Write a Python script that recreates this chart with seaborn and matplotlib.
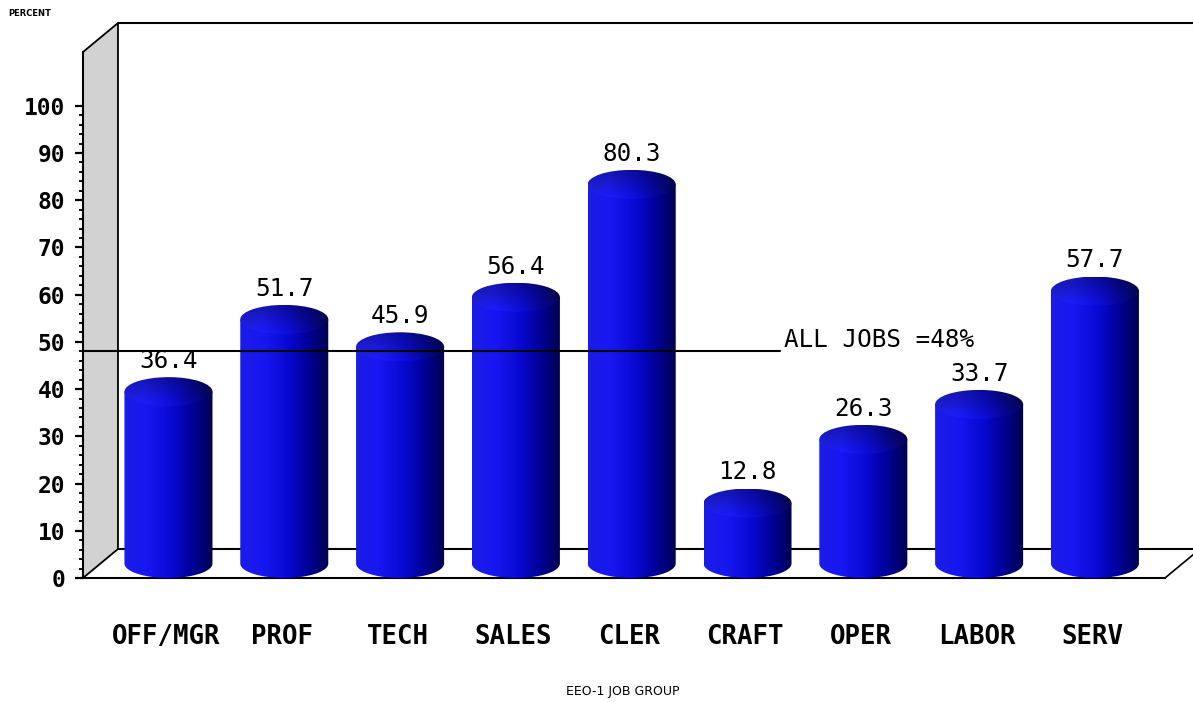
import numpy as np
import matplotlib
matplotlib.use("Agg")
import matplotlib.pyplot as plt
import seaborn as sns
from matplotlib.patches import Polygon, Ellipse
from matplotlib.colors import LinearSegmentedColormap
from matplotlib.ticker import FixedLocator
import matplotlib.transforms as mtransforms

# ---- data ----
categories = ["OFF/MGR", "PROF", "TECH", "SALES", "CLER", "CRAFT", "OPER", "LABOR", "SERV"]
values = [36.4, 51.7, 45.9, 56.4, 80.3, 12.8, 26.3, 33.7, 57.7]
all_jobs = 48
all_jobs_label = "ALL JOBS =48%"
y_ticks = list(range(0, 101, 10))
y_minor = [v for v in range(0, 101, 2) if v % 10]
y_label = "PERCENT"
x_label = "EEO-1 JOB GROUP"

sns.set_theme(style="white")
plt.rcParams["font.family"] = ["DejaVu Sans Mono", "DejaVu Sans"]
plt.rcParams["text.color"] = "black"
plt.rcParams["xtick.color"] = "black"
plt.rcParams["ytick.color"] = "black"
plt.rcParams["axes.labelcolor"] = "black"

W, H = 1193, 702
fig = plt.figure(figsize=(W / 100, H / 100), dpi=100)
ax = fig.add_axes([83 / W, (H - 578) / H, (1165 - 83) / W, 526 / H])

sns.barplot(x=categories, y=values, ax=ax, width=0.76, color="#0000dd", saturation=1)

xl, xr = -0.587, 8.756
ytop = 111.4
dx, dy = 0.302, 6.14       # depth offset (data units)
mx, my = dx / 2, dy / 2    # mid depth

# read bar geometry from seaborn, then replace with cylinders
bars = [(p.get_x(), p.get_width(), p.get_height()) for p in ax.patches]
for p in ax.patches:
    p.set_visible(False)

# 3D box
wall = Polygon([(xl, 0), (xl, ytop), (xl + dx, ytop + dy), (xl + dx, dy)],
               closed=True, facecolor="#d2d2d2", edgecolor="black", lw=1.3,
               zorder=1, clip_on=False)
ax.add_patch(wall)
ax.plot([xl + dx, xr + dx + 0.5], [ytop + dy, ytop + dy], color="black", lw=1.5, clip_on=False, zorder=1)
ax.plot([xl + dx, xr + dx + 0.5], [dy, dy], color="black", lw=1.5, clip_on=False, zorder=1)
ax.plot([xr, xr + dx], [0, dy], color="black", lw=1.2, clip_on=False, zorder=1)

body_cmap = LinearSegmentedColormap.from_list("body", [
    (0.0, (0.11, 0.11, 0.90)),
    (0.25, (0.09, 0.09, 0.95)),
    (0.55, (0.03, 0.03, 0.82)),
    (0.80, (0.00, 0.00, 0.56)),
    (1.0, (0.00, 0.00, 0.32)),
])

N = 128
hcols = body_cmap(np.linspace(0, 1, N))
body_img = hcols[None, :, :]
M = 64
vf = np.linspace(1.04, 0.70, M)[:, None, None]  # bottom (front) brighter, top darker
cap_img = hcols[None, :, :].repeat(M, axis=0).copy()
cap_img[..., :3] = np.clip(cap_img[..., :3] * vf + 0.02, 0, 1)

for (x0, w, h) in bars:
    cx = x0 + w / 2 + mx
    a = w / 2
    b = my
    base = my
    top = h + my
    t = np.linspace(np.pi, 2 * np.pi, 80)
    pts = np.column_stack([cx + a * np.cos(t), base + b * np.sin(t)])
    pts = np.vstack([pts, [[cx + a, top], [cx - a, top]]])
    body_clip = Polygon(pts, closed=True, facecolor="none", edgecolor="none",
                        transform=ax.transData)
    ax.add_patch(body_clip)
    im = ax.imshow(body_img, extent=[cx - a, cx + a, base - b, top], aspect="auto",
                   interpolation="bilinear", origin="lower", zorder=3)
    im.set_clip_path(body_clip)
    cap_clip = Ellipse((cx, top), 2 * a, 2 * b, facecolor="none", edgecolor="none",
                       transform=ax.transData)
    ax.add_patch(cap_clip)
    im2 = ax.imshow(cap_img, extent=[cx - a, cx + a, top - b, top + b], aspect="auto",
                    interpolation="bilinear", origin="lower", zorder=4)
    im2.set_clip_path(cap_clip)
    ax.annotate(f"{h:.1f}", xy=(cx, top + b), xytext=(0, 3), textcoords="offset points",
                ha="center", va="bottom", fontsize=17.5, color="black", zorder=6)

# reference line
line_end = 5.43
ax.plot([xl, line_end], [all_jobs, all_jobs], color="black", lw=1.5, zorder=5, clip_on=False)
ax.annotate(all_jobs_label, xy=(line_end, all_jobs), xytext=(3, 3), textcoords="offset points",
            ha="left", va="baseline", fontsize=17.5, color="black", zorder=6)

ax.set_xlim(xl, xr)
ax.set_ylim(0, ytop)

# spines
for s in ["top", "right"]:
    ax.spines[s].set_visible(False)
for s in ["left", "bottom"]:
    ax.spines[s].set_visible(True)
    ax.spines[s].set_color("black")
    ax.spines[s].set_linewidth(1.5)
    ax.spines[s].set_zorder(2)

ax.set_yticks(y_ticks)
ax.yaxis.set_minor_locator(FixedLocator(y_minor))
ax.tick_params(axis="y", which="major", direction="out", length=6, width=1.6,
               color="black", pad=7, labelsize=16.5, left=True, labelcolor="black")
ax.tick_params(axis="y", which="minor", direction="out", length=3.2, width=1.3,
               color="black", left=True)
ax.set_ylim(0, ytop)
for lab in ax.get_yticklabels():
    lab.set_fontweight("bold")

ax.set_xticks(range(len(categories)), categories)
ax.tick_params(axis="x", length=0, pad=33, labelsize=18.5, labelcolor="black")
off = mtransforms.ScaledTranslation(15 / 100, 0, fig.dpi_scale_trans)
for lab in ax.get_xticklabels():
    lab.set_transform(lab.get_transform() + off)
    lab.set_fontweight("bold")
ax.set_xlabel("")
ax.set_ylabel("")
ax.grid(False)
ax.set_facecolor("none")

fig.text(8 / W, 1 - 14 / H, y_label, ha="left", va="center", fontsize=6,
         fontweight="bold", family="DejaVu Sans", color="black")
fig.text(623 / W, 1 - 691 / H, x_label, ha="center", va="center", fontsize=9,
         family="DejaVu Sans", color="black")

fig.savefig("out.png", dpi=100, facecolor="white")
